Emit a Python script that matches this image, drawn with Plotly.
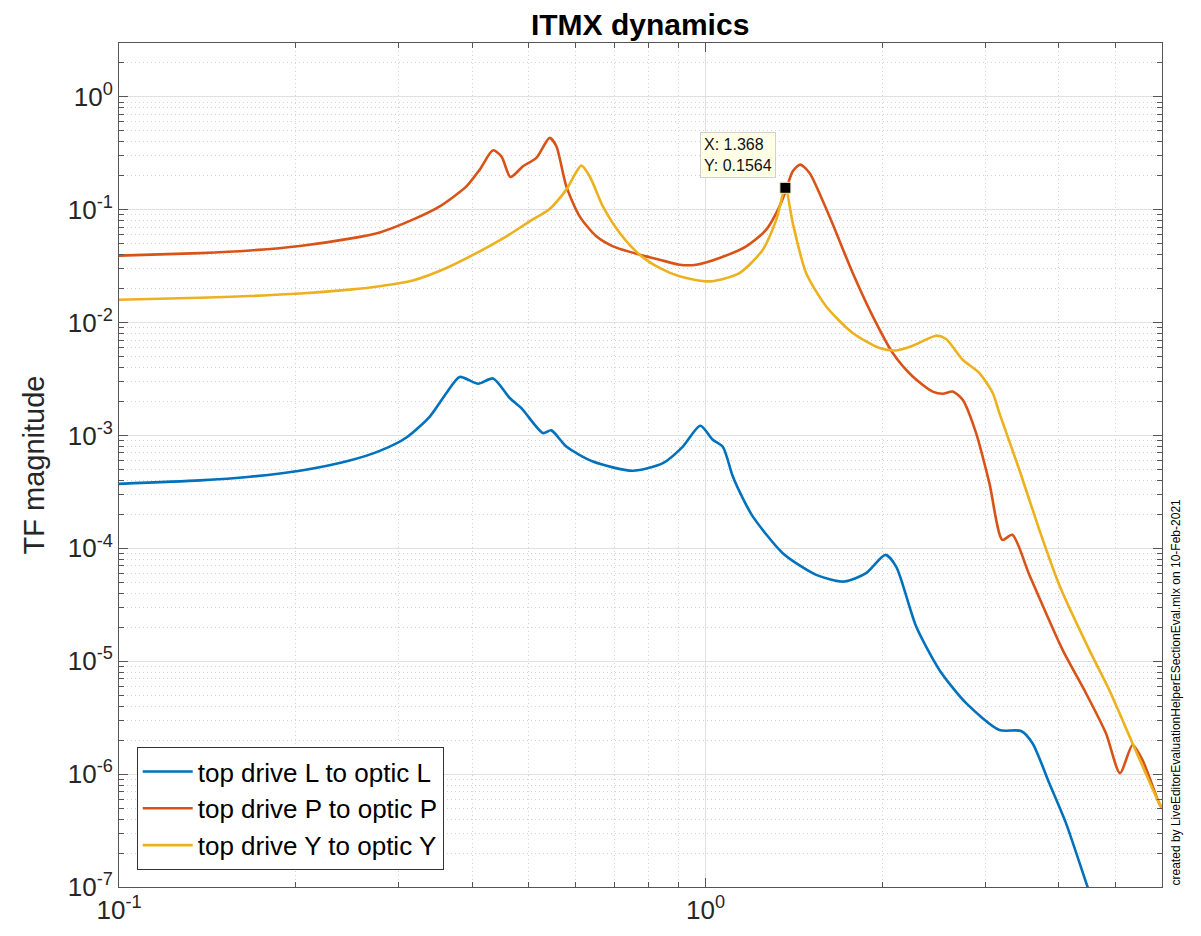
import numpy as np
import plotly.graph_objects as go

# ---- data ----
freq_L = [0.1, 0.1374, 0.1672, 0.2034, 0.2474, 0.2783, 0.3091, 0.3387, 0.3616, 0.3809,
          0.4094, 0.4342, 0.4635, 0.4853, 0.5283, 0.5459, 0.5789, 0.6427, 0.7516, 0.8459,
          0.9147, 0.9795, 1.029, 1.070, 1.113, 1.157, 1.204, 1.354, 1.544, 1.725,
          1.878, 2.026, 2.113, 2.286, 2.504, 2.781, 3.169, 3.451, 3.611, 3.855,
          4.117, 4.480, 4.69]
mag_L = [3.73e-4, 4.00e-4, 4.31e-4, 4.87e-4, 6.00e-4, 7.30e-4, 9.60e-4, 1.47e-3, 2.38e-3, 3.30e-3,
         2.87e-3, 3.20e-3, 2.15e-3, 1.75e-3, 1.05e-3, 1.11e-3, 7.98e-4, 5.88e-4, 4.87e-4, 5.69e-4,
         7.98e-4, 1.22e-3, 9.16e-4, 7.94e-4, 4.33e-4, 2.79e-4, 1.91e-4, 9.06e-5, 5.82e-5, 5.08e-5,
         6.03e-5, 8.75e-5, 6.90e-5, 2.03e-5, 8.38e-6, 4.25e-6, 2.46e-6, 2.41e-6, 1.87e-6, 8.28e-7,
         3.66e-7, 1.00e-7, 5.1e-8]

freq_P = [0.1, 0.1374, 0.1672, 0.2034, 0.2474, 0.2783, 0.3168, 0.3522, 0.3911, 0.4121,
          0.4342, 0.4487, 0.4650, 0.4884, 0.5146, 0.5422, 0.5567, 0.5789, 0.6100, 0.6514,
          0.6953, 0.7720, 0.8348, 0.9031, 0.9643, 1.0565, 1.173, 1.269, 1.337, 1.372,
          1.408, 1.450, 1.504, 1.626, 1.782, 1.928, 2.085, 2.255, 2.439, 2.537,
          2.638, 2.744, 2.892, 3.047, 3.206, 3.334, 3.565, 4.062, 4.453, 4.815,
          5.088, 5.346, 5.559, 5.934, 6.0]
mag_P = [0.0392, 0.0413, 0.0436, 0.0478, 0.0555, 0.0630, 0.0817, 0.1072, 0.161, 0.2266,
         0.336, 0.297, 0.195, 0.2427, 0.288, 0.433, 0.365, 0.161, 0.0874, 0.0581,
         0.0474, 0.0400, 0.0361, 0.0326, 0.0326, 0.0374, 0.0474, 0.0666, 0.1072, 0.1507,
         0.219, 0.251, 0.212, 0.0874, 0.0275, 0.01135, 5.38e-3, 3.33e-3, 2.45e-3, 2.34e-3,
         2.45e-3, 2.07e-3, 1.05e-3, 3.78e-4, 1.19e-4, 1.32e-4, 5.82e-5, 1.26e-5, 5.20e-6, 2.30e-6,
         1.02e-6, 1.81e-6, 1.33e-6, 5.51e-7, 5.0e-7]

freq_Y = [0.1, 0.1374, 0.1672, 0.2034, 0.2474, 0.2783, 0.3168, 0.3616, 0.4121, 0.4576,
          0.5014, 0.5422, 0.5789, 0.6141, 0.6344, 0.6683, 0.7140, 0.7720, 0.8348, 0.9031,
          1.0158, 1.1425, 1.252, 1.320, 1.368, 1.408, 1.484, 1.606, 1.782, 1.979,
          2.113, 2.255, 2.472, 2.571, 2.744, 2.930, 3.087, 3.169, 3.427, 3.707,
          4.009, 4.510, 4.878, 5.346, 5.934, 6.0]
mag_Y = [0.01596, 0.0166, 0.0172, 0.0181, 0.0196, 0.0210, 0.0236, 0.0305, 0.0428, 0.0581,
         0.0789, 0.1016, 0.1507, 0.246, 0.198, 0.1072, 0.0623, 0.0400, 0.0305, 0.0257,
         0.0232, 0.0275, 0.0443, 0.0817, 0.1564, 0.0763, 0.0275, 0.0139, 8.09e-3, 5.96e-3,
         5.67e-3, 6.24e-3, 7.66e-3, 7.16e-3, 4.69e-3, 3.57e-3, 2.38e-3, 1.58e-3, 4.97e-4, 1.46e-4,
         4.74e-5, 1.26e-5, 5.56e-6, 1.87e-6, 5.51e-7, 5.0e-7]

series_names = ["top drive L to optic L", "top drive P to optic P", "top drive Y to optic Y"]
datatip_x = [1.368]
datatip_y = [0.1564]

colors = ["#0072BD", "#D95319", "#EDB120"]
FONT = "Liberation Sans, Arial, Helvetica, sans-serif"

fig = go.Figure()
for f, m, name, c in zip([freq_L, freq_P, freq_Y], [mag_L, mag_P, mag_Y], series_names, colors):
    fig.add_trace(go.Scatter(x=f, y=m, mode="lines", name=name,
                             line=dict(color=c, width=2.6, shape="spline", smoothing=0.7)))

fig.add_trace(go.Scatter(x=datatip_x, y=datatip_y, mode="markers", showlegend=False,
                         marker=dict(symbol="square", size=11, color="black",
                                     line=dict(color="#f5f0c0", width=1))))

fig.add_annotation(x=np.log10(datatip_x[0]), y=np.log10(datatip_y[0]), xref="x", yref="y",
                   text="X: %.3f<br>Y: %.4f" % (datatip_x[0], datatip_y[0]),
                   showarrow=False, xanchor="right", yanchor="bottom", xshift=-9, yshift=10,
                   align="left", bgcolor="#FFFFE6", bordercolor="#d0d0d0", borderwidth=1,
                   borderpad=3, font=dict(family=FONT, size=16, color="#111111"))

fig.add_annotation(x=1.0134, y=0.0, xref="paper", yref="paper", xanchor="center", yanchor="bottom",
                   text="created by LiveEditorEvaluationHelperESectionEval.mlx on 10-Feb-2021",
                   textangle=-90, showarrow=False, font=dict(family=FONT, size=12, color="black"))

ydec = list(range(-7, 1))
ytickvals = [10.0 ** p for p in ydec]
yticktext = ["10<sup>%d</sup>" % p for p in ydec]
yminor = [k * 10.0 ** p for p in range(-7, 1) for k in range(2, 10)]
xtickvals = [0.1, 1.0]
xticktext = ["10<sup>-1</sup>", "10<sup>0</sup>"]
xminor = [k * 10.0 ** p for p in (-1, 0) for k in range(2, 10)]

axis_common = dict(type="log", showline=True, linecolor="#555555", linewidth=1, mirror="allticks",
                   ticks="inside", ticklen=9, tickcolor="#555555", showgrid=True,
                   gridcolor="#e0e0e0", gridwidth=1, zeroline=False,
                   tickfont=dict(family=FONT, size=26, color="#262626"))

minor_common = dict(ticks="inside", ticklen=5, tickcolor="#555555", showgrid=True,
                    gridcolor="#d2d2d2", griddash="1px,3px", gridwidth=1)

fig.update_xaxes(**axis_common, range=[-1, np.log10(6.0)], tickmode="array",
                 tickvals=xtickvals, ticktext=xticktext,
                 minor=dict(tickmode="array", tickvals=xminor, **minor_common))
fig.update_yaxes(**axis_common, range=[-7, np.log10(3.0)], tickmode="array",
                 tickvals=ytickvals, ticktext=yticktext,
                 title=dict(text="TF magnitude", font=dict(family=FONT, size=29, color="#262626"),
                            standoff=14),
                 minor=dict(tickmode="array", tickvals=yminor, **minor_common))

fig.update_layout(
    width=1201, height=936,
    margin=dict(l=119, r=39, t=43, b=49),
    paper_bgcolor="white", plot_bgcolor="white",
    title=dict(text="<b>ITMX dynamics</b>", x=0.533, xanchor="center", y=0.974, yanchor="middle",
               font=dict(family=FONT, size=30, color="black")),
    legend=dict(x=0.017, y=0.02, xanchor="left", yanchor="bottom", bgcolor="white",
                bordercolor="#333333", borderwidth=1, itemwidth=50,
                font=dict(family=FONT, size=26, color="black"), tracegroupgap=0),
    showlegend=True,
)

fig.write_html("out.html")
